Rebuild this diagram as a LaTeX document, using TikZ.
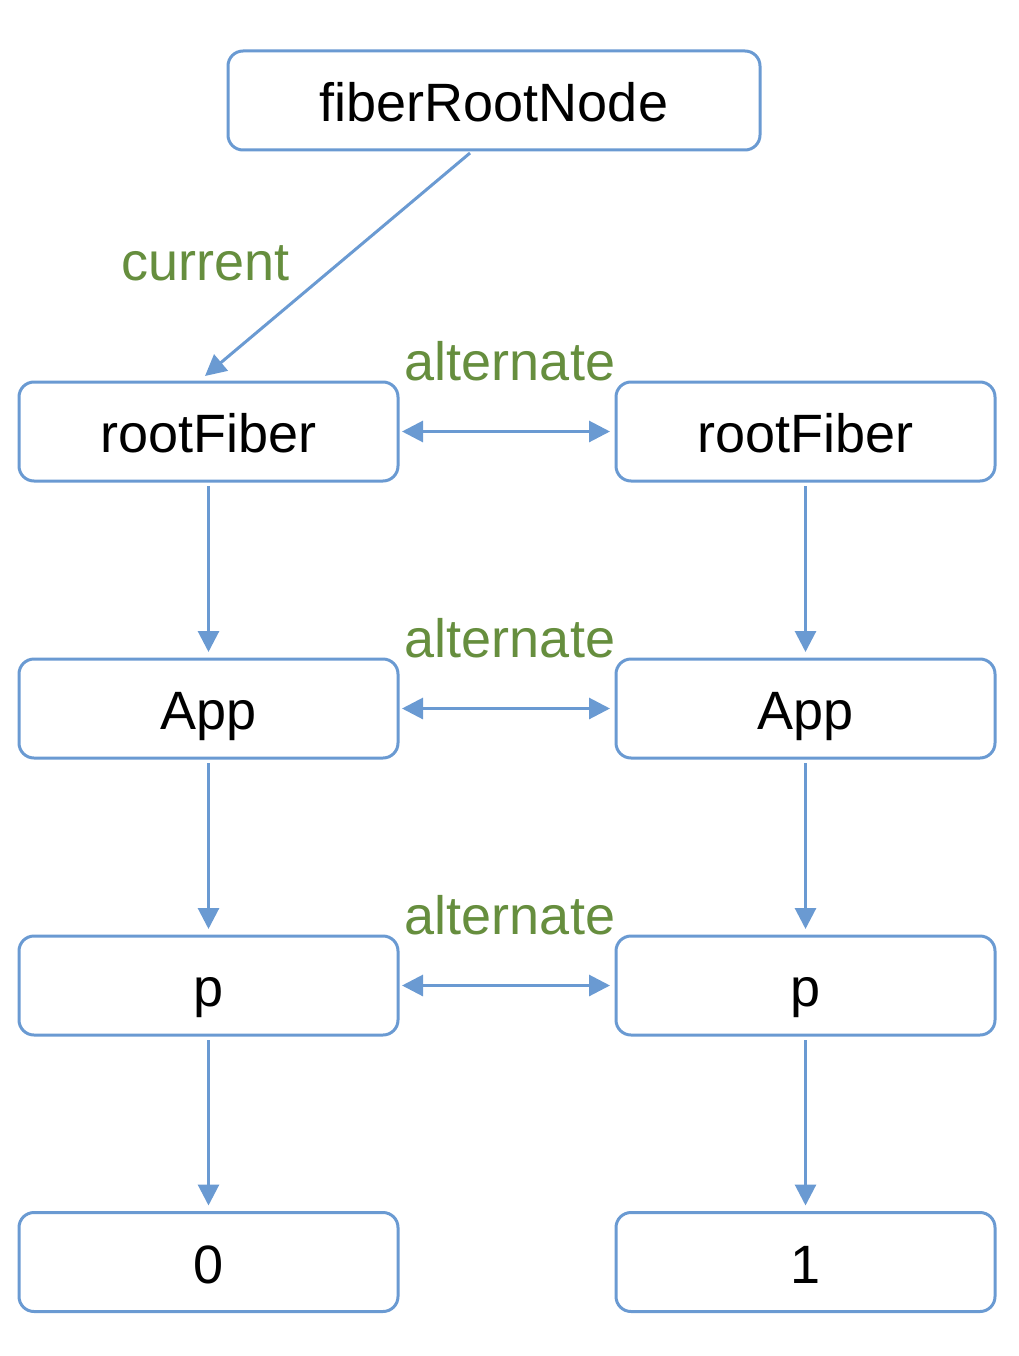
\documentclass[tikz,border=0pt]{standalone}
\usepackage{fontspec}
\setmainfont{Liberation Sans}
\usetikzlibrary{arrows.meta}
\definecolor{boxblue}{RGB}{106,154,210}
\definecolor{lblgreen}{RGB}{102,142,62}
\begin{document}
\begin{tikzpicture}[x=1pt,y=-1pt,
  fbox/.style={draw=boxblue, line width=3pt, rounded corners=15pt, outer sep=0pt,
    inner sep=0pt, minimum width=379pt, minimum height=99pt,
    text height=42pt, text depth=0pt, font=\fontsize{54}{60}\selectfont},
  lbl/.style={anchor=base, inner sep=0pt, text=lblgreen, font=\fontsize{54}{60}\selectfont},
  arr/.style={draw=boxblue, line width=3pt, -{Triangle[length=21pt,width=21pt]}},
  darr/.style={draw=boxblue, line width=3pt, {Triangle[length=21pt,width=21pt]}-{Triangle[length=21pt,width=21pt]}},
  vdown/.style={arr, shorten <=5pt, shorten >=7pt},
  hboth/.style={darr, shorten <=4pt, shorten >=6pt}]
\useasboundingbox (0,0) rectangle (1018,1356);
\node[fbox, minimum width=532pt] (root) at (494,100.5) {fiberRootNode};
\node[fbox] (l1) at (208.5,431.5) {rootFiber};
\node[fbox] (r1) at (805.5,431.5) {rootFiber};
\node[fbox] (l2) at (208.5,708.5) {App};
\node[fbox] (r2) at (805.5,708.5) {App};
\node[fbox] (l3) at (208.5,985.5) {p};
\node[fbox] (r3) at (805.5,985.5) {p};
\node[fbox] (l4) at (208.5,1262) {0};
\node[fbox] (r4) at (805.5,1262) {1};
\coordinate (cs) at ([xshift=-24pt,yshift=-3pt]root.south);
\coordinate (ce) at ([xshift=-3.5pt,yshift=6pt]l1.north);
\draw[arr] (cs) -- (ce);
\node[lbl] (lcur) at (205.5,280) {current};
\node[lbl] (la1) at (510,380) {alternate};
\node[lbl] (la2) at (510,657) {alternate};
\node[lbl] (la3) at (510,934) {alternate};
\draw[hboth] (l1.east) -- (r1.west);
\draw[hboth] (l2.east) -- (r2.west);
\draw[hboth] (l3.east) -- (r3.west);
\draw[vdown] (l1.south) -- (l2.north);
\draw[vdown] (l2.south) -- (l3.north);
\draw[vdown] (l3.south) -- (l4.north);
\draw[vdown] (r1.south) -- (r2.north);
\draw[vdown] (r2.south) -- (r3.north);
\draw[vdown] (r3.south) -- (r4.north);
\end{tikzpicture}
\end{document}
